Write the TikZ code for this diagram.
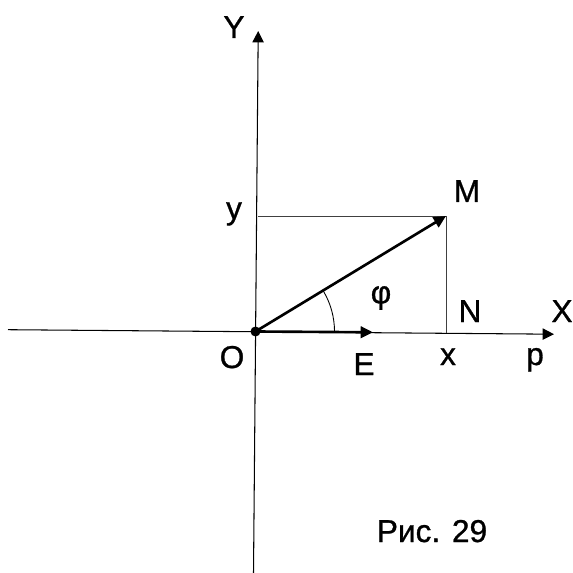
\documentclass[tikz,border=0pt]{standalone}
\usepackage{fontspec}
\setmainfont{Liberation Sans}[FakeBold=0.9]
\usetikzlibrary{arrows.meta, calc}

\begin{document}
\begin{tikzpicture}[x=0.02cm, y=-0.02cm,
    axis/.style={line width=0.6pt, -{Triangle[length=6.5pt, width=6.5pt]}},
    thinline/.style={line width=0.5pt, black!75},
    vect/.style={line width=1.5pt, -{Triangle[length=7pt, width=6.5pt]}},
    lbl/.style={font=\fontsize{18}{20}\selectfont, anchor=base}]
    \useasboundingbox (0,0) rectangle (573,573);
    % Points
    \coordinate (O) at (255.5,331.5);
    \coordinate (M) at (446,216);
    \coordinate (N) at (446,332.8);
    \coordinate (Yb) at (258.3,216);
    \coordinate (E) at (373,332.3);
    \coordinate (Xa) at (8,329.7);
    \coordinate (Xb) at (554,334.2);
    \coordinate (Ya) at (253.5,573);
    \coordinate (Yt) at (258.2,31);
    % Axes
    \draw[axis] (Xa) -- (Xb);
    \draw[axis] (Ya) -- (Yt);
    % Projections
    \draw[thinline] (Yb) -- (M) -- (N);
    % Vectors
    \draw[vect] (O) -- (M);
    \draw[vect] (O) -- (E);
    \fill (O) circle (5);
    % Angle
    \draw[line width=0.5pt] ($(O)+(79,0)$) arc (0:-31:79);
    % Labels
    \node[lbl] (lY) at (234,38) {Y};
    \node[lbl] (ly) at (234,219) {y};
    \node[lbl] (lM) at (467,202) {M};
    \node[font=\fontsize{18}{20}\selectfont] (lphi) at (381,298) {φ};
    \node[lbl] (lN) at (470,322) {N};
    \node[lbl] (lX) at (562,322) {X};
    \node[lbl] (lO) at (232,368) {O};
    \node[lbl] (lE) at (364,375) {E};
    \node[lbl] (lx) at (448,365) {x};
    \node[lbl] (lp) at (535,365) {p};
    \node[lbl] (fig) at (432,542) {Рис. 29};
\end{tikzpicture}
\end{document}
